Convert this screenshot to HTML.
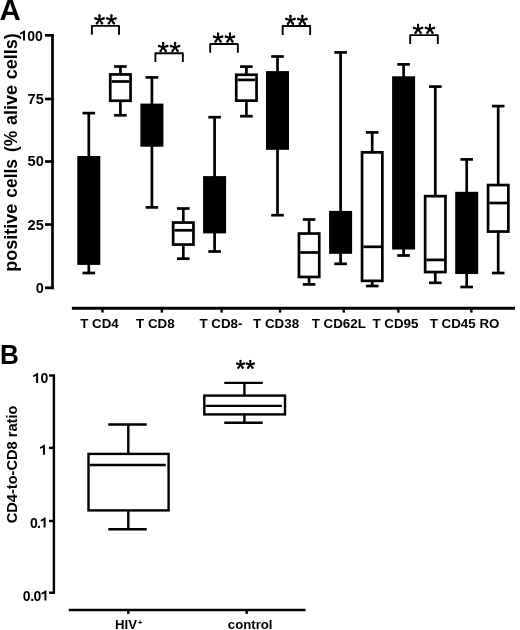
<!DOCTYPE html><html><head><meta charset="utf-8"><style>html,body{margin:0;padding:0;background:#fff;width:520px;height:630px;overflow:hidden}svg{display:block;will-change:transform}text{font-family:"Liberation Sans",sans-serif;font-weight:bold;fill:#000}</style></head><body>
<svg width="520" height="630" viewBox="0 0 520 630">
<rect width="520" height="630" fill="#fff"/>
<text x="-0.5" y="19.9" font-size="29.4">A</text>
<text transform="translate(0,364.0) scale(0.95,1)" font-size="27.6">B</text>
<g stroke="#000" stroke-width="2.7" fill="none">
<path d="M52.5 34.1 V289.2"/>
<path d="M45 35.3 H53.8"/>
<path d="M45 98.95 H53.8"/>
<path d="M45 161.5 H53.8"/>
<path d="M45 224.5 H53.8"/>
<path d="M45 287.8 H53.8"/>
</g>
<path transform="translate(19.55,40.50) scale(0.01400,-0.01400)" d="M250 0 H390 V716 H295 Q245 620 40 555 V430 Q170 470 250 525 Z" fill="#000"/><text x="27.33" y="40.50" font-size="14">0</text><text x="35.12" y="40.50" font-size="14">0</text>
<text x="27.56" y="103.55" font-size="14.6">7</text><text x="35.68" y="103.55" font-size="14.6">5</text>
<text x="27.56" y="166.10" font-size="14.6">5</text><text x="35.68" y="166.10" font-size="14.6">0</text>
<text x="27.56" y="229.70" font-size="14.6">2</text><text x="35.68" y="229.70" font-size="14.6">5</text>
<text x="35.68" y="292.70" font-size="14.6">0</text>
<text transform="translate(16.85,271.71) rotate(-90)" font-size="17.8" textLength="68.05" lengthAdjust="spacingAndGlyphs">positive</text>
<text transform="translate(16.85,197.75) rotate(-90)" font-size="17.8" textLength="38.79" lengthAdjust="spacingAndGlyphs">cells</text>
<text transform="translate(16.85,151.92) rotate(-90)" font-size="17.8" textLength="21.22" lengthAdjust="spacingAndGlyphs">(%</text>
<text transform="translate(16.85,125.09) rotate(-90)" font-size="17.8" textLength="40.16" lengthAdjust="spacingAndGlyphs">alive</text>
<text transform="translate(16.85,79.27) rotate(-90)" font-size="17.8" textLength="46.15" lengthAdjust="spacingAndGlyphs">cells)</text>
<g stroke="#000" stroke-width="2.9" fill="none"><path d="M71.9 308.3 H515"/></g>
<g stroke="#000" stroke-width="2.4" fill="none">
<path d="M102.5 308 V312.6"/>
<path d="M161.85 308 V312.6"/>
<path d="M221.65 308 V312.6"/>
<path d="M280.1 308 V312.6"/>
<path d="M343.75 308 V312.6"/>
<path d="M398.35 308 V312.6"/>
<path d="M471.35 308 V312.6"/>
</g>
<text x="99.50" y="327.6" font-size="13.35" text-anchor="middle">T CD4</text>
<text x="155.35" y="327.6" font-size="13.35" text-anchor="middle">T CD8</text>
<text x="220.95" y="327.6" font-size="13.35" text-anchor="middle">T CD8-</text>
<text x="276.10" y="327.6" font-size="13.35" text-anchor="middle">T CD38</text>
<text x="338.80" y="327.6" font-size="13.35" text-anchor="middle">T CD62L</text>
<text x="395.40" y="327.6" font-size="13.35" text-anchor="middle">T CD95</text>
<text x="464.60" y="327.6" font-size="13.35" text-anchor="middle">T CD45 RO</text>
<g stroke="#000" stroke-width="2.7" fill="none">
<path d="M88.8 113.1 V157.0"/>
<path d="M88.8 263.9 V273.0"/>
<path d="M82.50 113.1 H95.10"/>
<path d="M82.50 273.0 H95.10"/>
<rect x="77.30" y="156.0" width="23.0" height="108.90" fill="#000" stroke="none"/>
<path d="M120.4 66.5 V74.1"/>
<path d="M120.4 101.1 V115.3"/>
<path d="M114.10 66.5 H126.70"/>
<path d="M114.10 115.3 H126.70"/>
<rect x="110.25" y="74.45" width="20.30" height="26.30" fill="#fff"/>
<path d="M111.60 81.5 H129.20"/>
<path d="M151.9 77.4 V104.6"/>
<path d="M151.9 145.7 V207.4"/>
<path d="M145.60 77.4 H158.20"/>
<path d="M145.60 207.4 H158.20"/>
<rect x="140.40" y="103.6" width="23.0" height="43.10" fill="#000" stroke="none"/>
<path d="M183.3 208.5 V222.2"/>
<path d="M183.3 244.9 V258.7"/>
<path d="M177.00 208.5 H189.60"/>
<path d="M177.00 258.7 H189.60"/>
<rect x="173.15" y="222.55" width="20.30" height="22.00" fill="#fff"/>
<path d="M174.50 230.3 H192.10"/>
<path d="M214.6 117.2 V177.1"/>
<path d="M214.6 232.4 V251.5"/>
<path d="M208.30 117.2 H220.90"/>
<path d="M208.30 251.5 H220.90"/>
<rect x="203.10" y="176.1" width="23.0" height="57.30" fill="#000" stroke="none"/>
<path d="M246.4 66.6 V74.4"/>
<path d="M246.4 101.0 V116.2"/>
<path d="M240.10 66.6 H252.70"/>
<path d="M240.10 116.2 H252.70"/>
<rect x="236.25" y="74.75" width="20.30" height="25.90" fill="#fff"/>
<path d="M237.60 79.9 H255.20"/>
<path d="M277.5 56.5 V72.1"/>
<path d="M277.5 148.8 V215.2"/>
<path d="M271.20 56.5 H283.80"/>
<path d="M271.20 215.2 H283.80"/>
<rect x="266.00" y="71.1" width="23.0" height="78.70" fill="#000" stroke="none"/>
<path d="M309.1 219.5 V233.2"/>
<path d="M309.1 277.3 V284.4"/>
<path d="M302.80 219.5 H315.40"/>
<path d="M302.80 284.4 H315.40"/>
<rect x="298.95" y="233.55" width="20.30" height="43.40" fill="#fff"/>
<path d="M300.30 252.5 H317.90"/>
<path d="M340.6 52.4 V211.9"/>
<path d="M340.6 252.8 V263.8"/>
<path d="M334.30 52.4 H346.90"/>
<path d="M334.30 263.8 H346.90"/>
<rect x="329.10" y="210.9" width="23.0" height="42.90" fill="#000" stroke="none"/>
<path d="M372.2 132.4 V152.0"/>
<path d="M372.2 281.2 V286.0"/>
<path d="M365.90 132.4 H378.50"/>
<path d="M365.90 286.0 H378.50"/>
<rect x="362.05" y="152.35" width="20.30" height="128.50" fill="#fff"/>
<path d="M363.40 246.8 H381.00"/>
<path d="M403.6 64.4 V77.3"/>
<path d="M403.6 248.5 V255.5"/>
<path d="M397.30 64.4 H409.90"/>
<path d="M397.30 255.5 H409.90"/>
<rect x="392.10" y="76.3" width="23.0" height="173.20" fill="#000" stroke="none"/>
<path d="M435.3 86.6 V195.8"/>
<path d="M435.3 272.4 V282.8"/>
<path d="M429.00 86.6 H441.60"/>
<path d="M429.00 282.8 H441.60"/>
<rect x="425.15" y="196.15" width="20.30" height="75.90" fill="#fff"/>
<path d="M426.50 259.9 H444.10"/>
<path d="M466.7 159.4 V192.8"/>
<path d="M466.7 273.0 V287.0"/>
<path d="M460.40 159.4 H473.00"/>
<path d="M460.40 287.0 H473.00"/>
<rect x="455.20" y="191.8" width="23.0" height="82.20" fill="#000" stroke="none"/>
<path d="M498.2 106.1 V184.7"/>
<path d="M498.2 231.9 V273.0"/>
<path d="M491.90 106.1 H504.50"/>
<path d="M491.90 273.0 H504.50"/>
<rect x="488.05" y="185.05" width="20.30" height="46.50" fill="#fff"/>
<path d="M489.40 203.0 H507.00"/>
</g>
<g stroke="#000" stroke-width="1.9" fill="none" stroke-linejoin="round">
<path d="M91.85 34.8 V25.9 H119.05 V34.8"/>
<path d="M155.4 61.9 V53.2 H182.85 V61.9"/>
<path d="M210.2 52.7 V43.95 H237.85 V52.7"/>
<path d="M282.65 34.9 V26.05 H310.15 V34.9"/>
<path d="M410.2 44.0 V35.15 H437.8 V44.0"/>
</g>
<g stroke="#000" stroke-width="2.0" stroke-linecap="round">
<line x1="99.50" y1="19.75" x2="99.50" y2="15.25"/><circle cx="99.50" cy="15.55" r="1.2" stroke="none" fill="#000"/><line x1="99.50" y1="19.75" x2="103.78" y2="18.36"/><circle cx="103.49" cy="18.45" r="1.2" stroke="none" fill="#000"/><line x1="99.50" y1="19.75" x2="102.15" y2="23.39"/><circle cx="101.97" cy="23.15" r="1.2" stroke="none" fill="#000"/><line x1="99.50" y1="19.75" x2="96.85" y2="23.39"/><circle cx="97.03" cy="23.15" r="1.2" stroke="none" fill="#000"/><line x1="99.50" y1="19.75" x2="95.22" y2="18.36"/><circle cx="95.51" cy="18.45" r="1.2" stroke="none" fill="#000"/>
<line x1="111.40" y1="19.75" x2="111.40" y2="15.25"/><circle cx="111.40" cy="15.55" r="1.2" stroke="none" fill="#000"/><line x1="111.40" y1="19.75" x2="115.68" y2="18.36"/><circle cx="115.39" cy="18.45" r="1.2" stroke="none" fill="#000"/><line x1="111.40" y1="19.75" x2="114.05" y2="23.39"/><circle cx="113.87" cy="23.15" r="1.2" stroke="none" fill="#000"/><line x1="111.40" y1="19.75" x2="108.75" y2="23.39"/><circle cx="108.93" cy="23.15" r="1.2" stroke="none" fill="#000"/><line x1="111.40" y1="19.75" x2="107.12" y2="18.36"/><circle cx="107.41" cy="18.45" r="1.2" stroke="none" fill="#000"/>
<line x1="163.18" y1="47.35" x2="163.18" y2="42.85"/><circle cx="163.18" cy="43.15" r="1.2" stroke="none" fill="#000"/><line x1="163.18" y1="47.35" x2="167.45" y2="45.96"/><circle cx="167.17" cy="46.05" r="1.2" stroke="none" fill="#000"/><line x1="163.18" y1="47.35" x2="165.82" y2="50.99"/><circle cx="165.64" cy="50.75" r="1.2" stroke="none" fill="#000"/><line x1="163.18" y1="47.35" x2="160.53" y2="50.99"/><circle cx="160.71" cy="50.75" r="1.2" stroke="none" fill="#000"/><line x1="163.18" y1="47.35" x2="158.90" y2="45.96"/><circle cx="159.18" cy="46.05" r="1.2" stroke="none" fill="#000"/>
<line x1="175.07" y1="47.35" x2="175.07" y2="42.85"/><circle cx="175.07" cy="43.15" r="1.2" stroke="none" fill="#000"/><line x1="175.07" y1="47.35" x2="179.35" y2="45.96"/><circle cx="179.07" cy="46.05" r="1.2" stroke="none" fill="#000"/><line x1="175.07" y1="47.35" x2="177.72" y2="50.99"/><circle cx="177.54" cy="50.75" r="1.2" stroke="none" fill="#000"/><line x1="175.07" y1="47.35" x2="172.43" y2="50.99"/><circle cx="172.61" cy="50.75" r="1.2" stroke="none" fill="#000"/><line x1="175.07" y1="47.35" x2="170.80" y2="45.96"/><circle cx="171.08" cy="46.05" r="1.2" stroke="none" fill="#000"/>
<line x1="218.07" y1="37.95" x2="218.07" y2="33.45"/><circle cx="218.07" cy="33.75" r="1.2" stroke="none" fill="#000"/><line x1="218.07" y1="37.95" x2="222.35" y2="36.56"/><circle cx="222.07" cy="36.65" r="1.2" stroke="none" fill="#000"/><line x1="218.07" y1="37.95" x2="220.72" y2="41.59"/><circle cx="220.54" cy="41.35" r="1.2" stroke="none" fill="#000"/><line x1="218.07" y1="37.95" x2="215.43" y2="41.59"/><circle cx="215.61" cy="41.35" r="1.2" stroke="none" fill="#000"/><line x1="218.07" y1="37.95" x2="213.80" y2="36.56"/><circle cx="214.08" cy="36.65" r="1.2" stroke="none" fill="#000"/>
<line x1="229.97" y1="37.95" x2="229.97" y2="33.45"/><circle cx="229.97" cy="33.75" r="1.2" stroke="none" fill="#000"/><line x1="229.97" y1="37.95" x2="234.25" y2="36.56"/><circle cx="233.97" cy="36.65" r="1.2" stroke="none" fill="#000"/><line x1="229.97" y1="37.95" x2="232.62" y2="41.59"/><circle cx="232.44" cy="41.35" r="1.2" stroke="none" fill="#000"/><line x1="229.97" y1="37.95" x2="227.33" y2="41.59"/><circle cx="227.51" cy="41.35" r="1.2" stroke="none" fill="#000"/><line x1="229.97" y1="37.95" x2="225.70" y2="36.56"/><circle cx="225.98" cy="36.65" r="1.2" stroke="none" fill="#000"/>
<line x1="290.45" y1="20.25" x2="290.45" y2="15.75"/><circle cx="290.45" cy="16.05" r="1.2" stroke="none" fill="#000"/><line x1="290.45" y1="20.25" x2="294.73" y2="18.86"/><circle cx="294.44" cy="18.95" r="1.2" stroke="none" fill="#000"/><line x1="290.45" y1="20.25" x2="293.10" y2="23.89"/><circle cx="292.92" cy="23.65" r="1.2" stroke="none" fill="#000"/><line x1="290.45" y1="20.25" x2="287.80" y2="23.89"/><circle cx="287.98" cy="23.65" r="1.2" stroke="none" fill="#000"/><line x1="290.45" y1="20.25" x2="286.17" y2="18.86"/><circle cx="286.46" cy="18.95" r="1.2" stroke="none" fill="#000"/>
<line x1="302.35" y1="20.25" x2="302.35" y2="15.75"/><circle cx="302.35" cy="16.05" r="1.2" stroke="none" fill="#000"/><line x1="302.35" y1="20.25" x2="306.63" y2="18.86"/><circle cx="306.34" cy="18.95" r="1.2" stroke="none" fill="#000"/><line x1="302.35" y1="20.25" x2="305.00" y2="23.89"/><circle cx="304.82" cy="23.65" r="1.2" stroke="none" fill="#000"/><line x1="302.35" y1="20.25" x2="299.70" y2="23.89"/><circle cx="299.88" cy="23.65" r="1.2" stroke="none" fill="#000"/><line x1="302.35" y1="20.25" x2="298.07" y2="18.86"/><circle cx="298.36" cy="18.95" r="1.2" stroke="none" fill="#000"/>
<line x1="418.05" y1="29.20" x2="418.05" y2="24.70"/><circle cx="418.05" cy="25.00" r="1.2" stroke="none" fill="#000"/><line x1="418.05" y1="29.20" x2="422.33" y2="27.81"/><circle cx="422.04" cy="27.90" r="1.2" stroke="none" fill="#000"/><line x1="418.05" y1="29.20" x2="420.70" y2="32.84"/><circle cx="420.52" cy="32.60" r="1.2" stroke="none" fill="#000"/><line x1="418.05" y1="29.20" x2="415.40" y2="32.84"/><circle cx="415.58" cy="32.60" r="1.2" stroke="none" fill="#000"/><line x1="418.05" y1="29.20" x2="413.77" y2="27.81"/><circle cx="414.06" cy="27.90" r="1.2" stroke="none" fill="#000"/>
<line x1="429.95" y1="29.20" x2="429.95" y2="24.70"/><circle cx="429.95" cy="25.00" r="1.2" stroke="none" fill="#000"/><line x1="429.95" y1="29.20" x2="434.23" y2="27.81"/><circle cx="433.94" cy="27.90" r="1.2" stroke="none" fill="#000"/><line x1="429.95" y1="29.20" x2="432.60" y2="32.84"/><circle cx="432.42" cy="32.60" r="1.2" stroke="none" fill="#000"/><line x1="429.95" y1="29.20" x2="427.30" y2="32.84"/><circle cx="427.48" cy="32.60" r="1.2" stroke="none" fill="#000"/><line x1="429.95" y1="29.20" x2="425.67" y2="27.81"/><circle cx="425.96" cy="27.90" r="1.2" stroke="none" fill="#000"/>
</g>
<g stroke="#000" stroke-width="2.4" fill="none">
<path d="M53.9 374.6 V593.7"/>
<path d="M49 375.5 H54.8"/>
<path d="M49 447.9 H54.8"/>
<path d="M49 521.0 H54.8"/>
<path d="M49 592.7 H54.8"/>
<path d="M68.8 610 H305.5"/>
<path d="M128.3 610 V613.9"/>
<path d="M246.7 610 V613.9"/>
</g>
<path transform="translate(32.63,383.00) scale(0.01400,-0.01400)" d="M250 0 H390 V716 H295 Q245 620 40 555 V430 Q170 470 250 525 Z" fill="#000"/><text x="40.42" y="383.00" font-size="14">0</text>
<path transform="translate(39.47,454.80) scale(0.01400,-0.01400)" d="M250 0 H390 V716 H295 Q245 620 40 555 V430 Q170 470 250 525 Z" fill="#000"/>
<text x="30.04" y="527.60" font-size="14">0</text><text x="37.02" y="527.60" font-size="14">.</text><path transform="translate(40.12,527.60) scale(0.01400,-0.01400)" d="M250 0 H390 V716 H295 Q245 620 40 555 V430 Q170 470 250 525 Z" fill="#000"/>
<text x="22.81" y="600.50" font-size="14">0</text><text x="30.14" y="600.50" font-size="14">.</text><text x="33.58" y="600.50" font-size="14">0</text><path transform="translate(40.92,600.50) scale(0.01400,-0.01400)" d="M250 0 H390 V716 H295 Q245 620 40 555 V430 Q170 470 250 525 Z" fill="#000"/>
<text transform="translate(17.4,523.3) rotate(-90)" font-size="14.5" textLength="117.7" lengthAdjust="spacingAndGlyphs">CD4-to-CD8 ratio</text>
<text x="115" y="629.2" font-size="13.2">HIV<tspan font-size="8" dx="0.8" dy="-4.2">+</tspan></text>
<text x="250.2" y="629.2" font-size="13.2" text-anchor="middle">control</text>
<g stroke="#000" stroke-width="2.4" fill="none">
<path d="M128.3 424.5 V453.7"/><path d="M128.3 510.6 V529.3"/><path d="M108.25 424.5 H146.75"/><path d="M108.25 529.3 H146.75"/><rect x="88.50" y="453.90" width="80.10" height="56.50" fill="#fff"/><path d="M89.70 465.0 H165.8"/>
<path d="M244.4 382.9 V395.4"/><path d="M244.4 414.6 V422.7"/><path d="M224.25 382.9 H262.75"/><path d="M224.25 422.7 H262.75"/><rect x="204.30" y="395.60" width="80.70" height="18.80" fill="#fff"/><path d="M205.50 405.9 H281.9"/>
</g>
<g stroke="#000" stroke-width="1.9" stroke-linecap="round">
<line x1="240.50" y1="364.70" x2="240.50" y2="360.80"/><circle cx="240.50" cy="361.10" r="1.05" stroke="none" fill="#000"/><line x1="240.50" y1="364.70" x2="244.21" y2="363.49"/><circle cx="243.92" cy="363.59" r="1.05" stroke="none" fill="#000"/><line x1="240.50" y1="364.70" x2="242.79" y2="367.86"/><circle cx="242.62" cy="367.61" r="1.05" stroke="none" fill="#000"/><line x1="240.50" y1="364.70" x2="238.21" y2="367.86"/><circle cx="238.38" cy="367.61" r="1.05" stroke="none" fill="#000"/><line x1="240.50" y1="364.70" x2="236.79" y2="363.49"/><circle cx="237.08" cy="363.59" r="1.05" stroke="none" fill="#000"/>
<line x1="250.30" y1="364.70" x2="250.30" y2="360.80"/><circle cx="250.30" cy="361.10" r="1.05" stroke="none" fill="#000"/><line x1="250.30" y1="364.70" x2="254.01" y2="363.49"/><circle cx="253.72" cy="363.59" r="1.05" stroke="none" fill="#000"/><line x1="250.30" y1="364.70" x2="252.59" y2="367.86"/><circle cx="252.42" cy="367.61" r="1.05" stroke="none" fill="#000"/><line x1="250.30" y1="364.70" x2="248.01" y2="367.86"/><circle cx="248.18" cy="367.61" r="1.05" stroke="none" fill="#000"/><line x1="250.30" y1="364.70" x2="246.59" y2="363.49"/><circle cx="246.88" cy="363.59" r="1.05" stroke="none" fill="#000"/>
</g>
</svg></body></html>
